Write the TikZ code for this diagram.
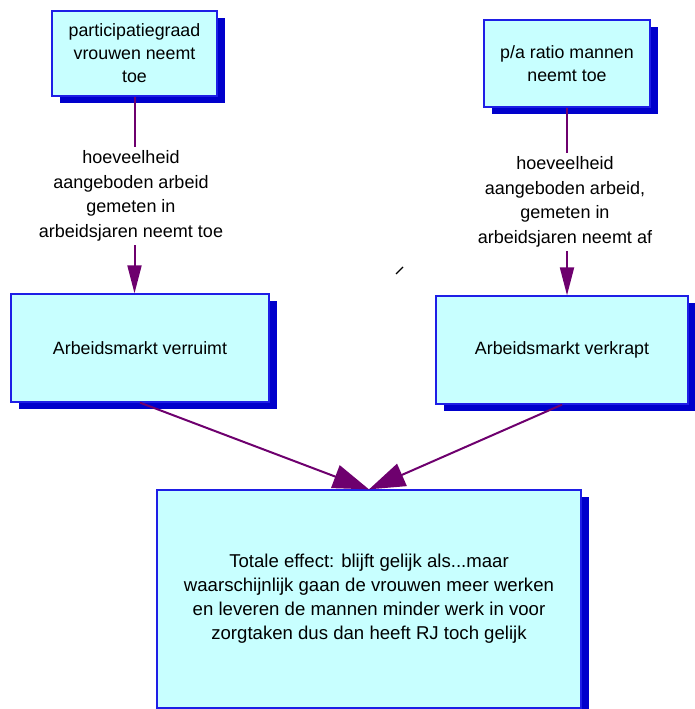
\documentclass[tikz,border=0pt]{standalone}
\usepackage{fontspec}
\setmainfont{Liberation Sans}
\usetikzlibrary{arrows.meta,shadows}

\definecolor{boxfill}{RGB}{200,255,255}
\definecolor{boxedge}{RGB}{30,30,230}
\definecolor{shadowblue}{RGB}{0,0,204}
\definecolor{linkpurple}{RGB}{110,0,110}

\tikzset{
  cbox/.style={draw=boxedge, line width=1.3pt, fill=boxfill, inner sep=0pt,
    align=center, font=\fontsize{17.8}{23}\selectfont,
    general shadow={shadow xshift=7.5pt, shadow yshift=-7pt, fill=shadowblue}},
  steplabel/.style={fill=white, inner sep=4pt, align=center,
    font=\fontsize{18}{24.5}\selectfont},
  link/.style={draw=linkpurple, line width=2pt},
  vhead/.style={-{Triangle[length=28pt,width=14pt]}},
  dhead/.style={-{Triangle[length=36pt,width=24pt]}}
}

\begin{document}
\begin{tikzpicture}[x=1pt,y=-1pt]
  \useasboundingbox (0,0) rectangle (695,709);

  % cause boxes
  \node[cbox, minimum width=165pt, minimum height=85pt] (b1) at (134.5,53.5)
    {participatiegraad\\vrouwen neemt\\toe};
  \node[cbox, minimum width=166pt, minimum height=87pt] (b2) at (567,63.5)
    {p/a ratio mannen\\neemt toe};

  % market boxes
  \node[cbox, minimum width=258pt, minimum height=108pt] (b3) at (140,348)
    {Arbeidsmarkt verruimt};
  \node[cbox, minimum width=252pt, minimum height=108pt] (b4) at (562,350)
    {Arbeidsmarkt verkrapt};

  % total effect box
  \node[cbox, minimum width=424pt, minimum height=218pt,
        font=\fontsize{18.6}{24}\selectfont] (b5) at (369,599)
    {Totale effect: blijft gelijk als...maar\\
     waarschijnlijk gaan de vrouwen meer werken\\
     en leveren de mannen minder werk in voor\\
     zorgtaken dus dan heeft RJ toch gelijk};

  % vertical links with their labels
  \draw[link, vhead] (b1.south) -- (b1.south |- b3.north);
  \node[steplabel] (l1) at (131,196)
    {hoeveelheid\\aangeboden arbeid\\gemeten in\\arbeidsjaren neemt toe};

  \draw[link, vhead] (b2.south) -- (b2.south |- b4.north);
  \node[steplabel] (l2) at (565,202)
    {hoeveelheid\\aangeboden arbeid,\\gemeten in\\arbeidsjaren neemt af};

  % links into the total effect
  \draw[link, dhead] (b3.south) -- (b5.north);
  \draw[link, dhead] (b4.south) -- (b5.north);

  % small stray stroke
  \coordinate (s1) at (396,274);
  \coordinate (s2) at (403,267);
  \draw[line width=1.3pt, black] (s1) -- (s2);
\end{tikzpicture}
\end{document}
